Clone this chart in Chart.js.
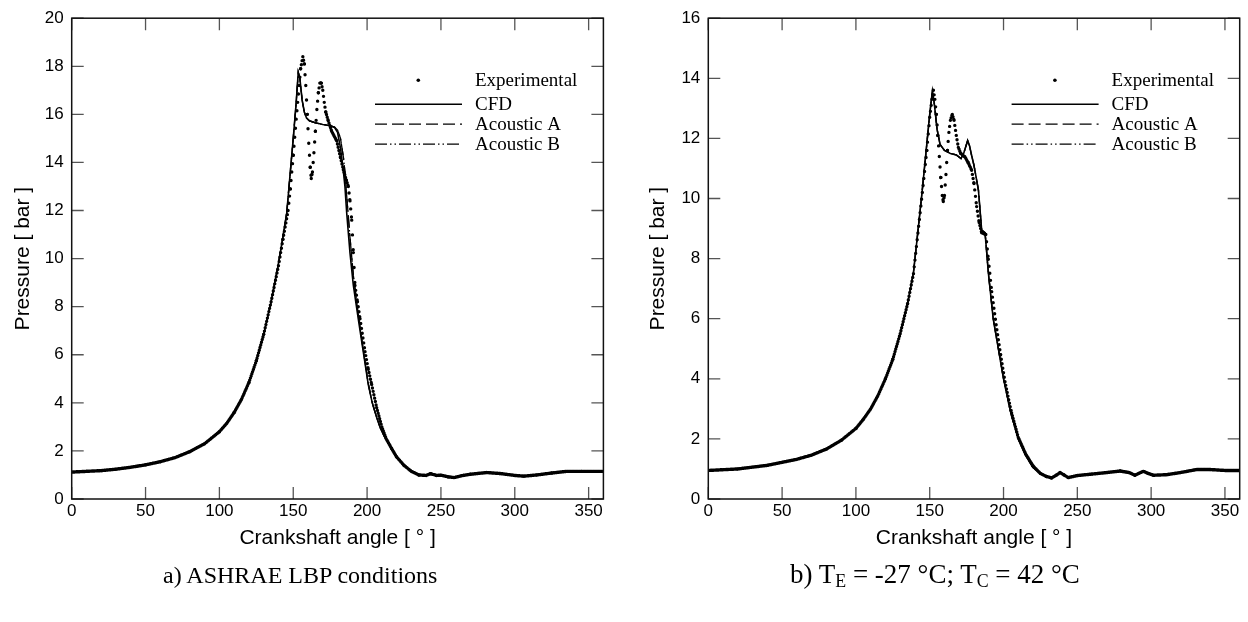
<!DOCTYPE html>
<html>
<head>
<meta charset="utf-8">
<script src="https://cdn.jsdelivr.net/npm/chart.js@4.4.1/dist/chart.umd.min.js"></script>
<style>
  html, body { margin: 0; padding: 0; background: #fff; width: 1248px; height: 622px; overflow: hidden; }
  canvas { position: absolute; top: 0; }
  #cvL { left: 0; }
  #cvR { left: 624px; }
  .cap { position: absolute; font-family: 'Liberation Serif', 'Times New Roman', serif; color: #000; white-space: nowrap; }
  #capL { left: 163px; top: 563px; font-size: 24px; line-height: 24px; }
  #capR { left: 790px; top: 561px; font-size: 27px; line-height: 27px; }
  .cap sub { font-size: 0.66em; vertical-align: -0.22em; line-height: 0; }
</style>
</head>
<body>
<canvas id="cvL" width="624" height="622"></canvas>
<canvas id="cvR" width="624" height="622"></canvas>
<div class="cap" id="capL">a) ASHRAE LBP conditions</div>
<div class="cap" id="capR">b) T<sub>E</sub> = -27 °C; T<sub>C</sub> = 42 °C</div>
<script>
// ---------- DATA ----------
const seriesNames = ['Experimental', 'CFD', 'Acoustic A', 'Acoustic B'];
const xTitle = 'Crankshaft angle [ \u00b0 ]';
const yTitle = 'Pressure [ bar ]';

// Chart a) ASHRAE LBP conditions
const cfdAngleL = [0,20,40,60,70,80,90,100,105,110,115,120,125,130,135,140,143,145.6,148,150,152,153.4,154.5,156,157.5,159,161,165,170,175,178,180,182,184,185,186.2,188.4,190.7,194,197.4,200.8,203.5,206.5,209,212,216.7,220,225,230,235,240,243,247,250,255,259,265,270,281,290,300,306,315,325,335,345,360];
const cfdL = [1.12,1.18,1.32,1.55,1.72,1.97,2.3,2.8,3.15,3.6,4.15,4.85,5.75,6.85,8.2,9.8,10.9,11.9,13.6,15.0,16.5,17.75,17.5,16.6,16.1,15.85,15.73,15.65,15.58,15.53,15.45,15.25,14.6,13.6,13.0,11.9,10.25,8.88,7.5,6.13,4.76,4.0,3.39,2.95,2.56,2.09,1.75,1.4,1.15,1.0,0.98,1.05,0.98,0.99,0.92,0.89,0.98,1.03,1.1,1.06,0.98,0.95,1.0,1.08,1.15,1.15,1.15];
const acousticL = [1.12,1.18,1.32,1.55,1.72,1.97,2.3,2.8,3.15,3.6,4.15,4.85,5.75,6.85,8.2,9.8,10.9,11.9,13.6,15.0,16.5,17.75,17.5,16.6,16.1,15.85,15.73,15.65,15.58,15.53,15.47,15.35,15.0,14.2,13.6,12.6,10.9,9.3,7.7,6.2,4.8,4.0,3.39,2.95,2.56,2.09,1.75,1.4,1.15,1.0,0.98,1.05,0.98,0.99,0.92,0.89,0.98,1.03,1.1,1.06,0.98,0.95,1.0,1.08,1.15,1.15,1.15];
const expAngleL = [0,10,20,30,40,50,60,70,80,90,100,105,110,115,120,125,130,135,140,143,146.5,148,150,152,154,155,156.5,157.5,158.5,159.5,160.5,161.5,162.2,163,164,165,166,167,168,169,170,171,172,173.7,176,179.4,182,183.9,186,187.3,188.4,189.6,190.7,191.8,193.5,195.2,198.6,200.8,203.1,206.5,210,213,216.7,220,225,230,235,240,243,247,250,255,259,265,270,281,290,300,306,315,325,335,345,360];
const expL = [1.12,1.15,1.18,1.24,1.32,1.42,1.55,1.72,1.97,2.3,2.8,3.15,3.6,4.15,4.85,5.75,6.85,8.2,9.7,10.8,12.0,12.9,14.3,15.8,17.2,17.9,18.4,18.1,17.2,16.0,14.8,13.8,13.33,13.6,14.4,15.3,16.2,16.9,17.3,17.3,17.0,16.5,16.1,15.73,15.3,14.9,14.2,13.7,13.25,13.0,12.4,11.6,10.25,8.88,8.2,7.5,6.13,5.4,4.76,3.8,3.0,2.5,2.09,1.75,1.4,1.15,1.0,0.98,1.05,0.98,0.99,0.92,0.89,0.98,1.03,1.1,1.06,0.98,0.95,1.0,1.08,1.15,1.15,1.15];

// Chart b) TE = -27 °C; TC = 42 °C
const cfdAngleR = [0,20,40,60,70,80,90,100,105,110,115,120,125,130,135,139,142,145,148,150,151.8,153,155,157,160,164,168,171.2,173,175.7,177,178.4,180,183,185.2,187.5,189.7,193,196.5,200,205,210,215,220,225,229,232.6,236,238.3,241,243.9,250,260,270,279,285,289,294.7,298,301.5,310.6,320,330.9,340,350,360];
const cfdR = [0.95,1.0,1.12,1.32,1.46,1.66,1.95,2.35,2.65,3.0,3.45,4.0,4.65,5.5,6.5,7.54,8.9,10.3,11.8,12.8,13.57,13.2,12.3,11.8,11.6,11.5,11.45,11.33,11.5,11.93,11.75,11.43,11.1,10.28,8.95,8.86,7.54,6.0,5.0,4.0,2.85,2.0,1.45,1.05,0.85,0.75,0.70,0.8,0.88,0.8,0.71,0.78,0.83,0.88,0.93,0.88,0.79,0.92,0.85,0.79,0.81,0.88,0.98,0.98,0.95,0.95];
const acousticR = [0.95,1.0,1.12,1.32,1.46,1.66,1.95,2.35,2.65,3.0,3.45,4.0,4.65,5.5,6.5,7.54,8.9,10.3,11.8,12.8,13.57,13.2,12.3,11.8,11.6,11.5,11.45,11.33,11.5,11.93,11.75,11.43,11.1,10.28,8.95,8.86,7.54,6.0,5.0,4.0,2.85,2.0,1.45,1.05,0.85,0.75,0.70,0.8,0.88,0.8,0.71,0.78,0.83,0.88,0.93,0.88,0.79,0.92,0.85,0.79,0.81,0.88,0.98,0.98,0.95,0.95];
const expAngleR = [0,20,40,60,70,80,90,100,105,110,115,120,125,130,135,139,142,145,148,150,151.5,152.5,153.5,154.5,155.5,156.5,157.5,158.5,159.2,160,161,162,163,164,165.3,166.5,168,169.4,171,173.9,176,178.4,180,181.8,183.5,185.2,188,189.7,192,195,198,201,205,210,215,220,225,229,232.6,236,238.3,241,243.9,250,260,270,279,285,289,294.7,298,301.5,310.6,320,330.9,340,350,360];
const expR = [0.95,1.0,1.12,1.32,1.46,1.66,1.95,2.35,2.65,3.0,3.45,4.0,4.65,5.5,6.5,7.5,8.85,10.2,11.6,12.7,13.3,13.6,13.3,12.8,12.1,11.4,10.7,10.1,9.9,10.1,10.8,11.6,12.2,12.6,12.8,12.6,12.1,11.7,11.5,11.38,11.2,10.94,10.5,9.73,9.2,8.86,8.8,7.98,6.9,5.8,4.8,3.9,2.95,2.05,1.5,1.1,0.85,0.75,0.70,0.8,0.88,0.8,0.71,0.78,0.83,0.88,0.93,0.88,0.79,0.92,0.85,0.79,0.81,0.88,0.98,0.98,0.95,0.95];

// ---------- helpers ----------
const pts = (xs, ys) => xs.map((x, i) => ({ x: x, y: ys[i] }));
const SANS = "'Liberation Sans', Arial, Helvetica, sans-serif";
const SERIF = "'Liberation Serif', 'Times New Roman', serif";
const SAMPLE_STEP = 0.5; // angular spacing of the measured dots (styling of the dotted line)

// dotted line whose dot spacing follows a constant crank-angle step
function dotDash(ctx) {
  const ds = ctx.chart.data.datasets[ctx.datasetIndex].data;
  const a0 = ds[ctx.p0DataIndex].x, a1 = ds[ctx.p1DataIndex].x;
  const len = Math.hypot(ctx.p1.x - ctx.p0.x, ctx.p1.y - ctx.p0.y);
  const n = Math.max((a1 - a0) / SAMPLE_STEP, 1);
  return [0, Math.max(len / n, 0.4)];
}

const frameTicks = {
  id: 'frameTicks',
  afterDatasetsDraw(chart) {
    const { ctx, chartArea: a, scales: { x, y } } = chart;
    ctx.save();
    ctx.strokeStyle = '#555';
    ctx.lineWidth = 1.3;
    ctx.beginPath();
    x.ticks.forEach(t => {
      const px = x.getPixelForValue(t.value);
      ctx.moveTo(px, a.bottom); ctx.lineTo(px, a.bottom - 12);
      ctx.moveTo(px, a.top); ctx.lineTo(px, a.top + 12);
    });
    y.ticks.forEach(t => {
      const py = y.getPixelForValue(t.value);
      ctx.moveTo(a.left, py); ctx.lineTo(a.left + 12, py);
      ctx.moveTo(a.right, py); ctx.lineTo(a.right - 12, py);
    });
    ctx.stroke();
    ctx.strokeStyle = '#111';
    ctx.lineWidth = 1.5;
    ctx.strokeRect(a.left, a.top, a.right - a.left, a.bottom - a.top);
    ctx.restore();
  }
};

const legendBox = {
  id: 'legendBox',
  afterDraw(chart) {
    const { ctx, chartArea: a } = chart;
    const rows = [62, 86, 106, 126];
    const x0 = a.left + 303.3, x1 = a.left + 390.3, tx = a.left + 403.3;
    ctx.save();
    ctx.font = '19px ' + SERIF;
    ctx.fillStyle = '#000';
    ctx.textBaseline = 'middle';
    chart.data.datasets.forEach((ds, i) => {
      const yy = a.top + rows[i];
      if (ds.isDots) {
        ctx.beginPath();
        ctx.arc(a.left + 346.6, yy, 1.8, 0, Math.PI * 2);
        ctx.fill();
      } else {
        ctx.beginPath();
        ctx.strokeStyle = '#000';
        ctx.lineWidth = ds.borderWidth;
        ctx.setLineDash(ds.borderDash || []);
        ctx.moveTo(x0, yy); ctx.lineTo(x1, yy);
        ctx.stroke();
        ctx.setLineDash([]);
      }
      ctx.fillText(ds.label, tx, yy + 1);
    });
    ctx.restore();
  }
};

function makeChart(id, d) {
  const tickFont = { family: SANS, size: 17 };
  const titleFont = { family: SANS, size: 21 };
  return new Chart(document.getElementById(id), {
    type: 'line',
    data: {
      datasets: [
        { label: seriesNames[0], data: pts(d.expAngle, d.exp), isDots: true,
          borderColor: '#000', borderWidth: 3.4, borderCapStyle: 'round',
          segment: { borderDash: dotDash },
          pointRadius: 0, fill: false, order: 0 },
        { label: seriesNames[1], data: pts(d.cfdAngle, d.cfd),
          borderColor: '#000', borderWidth: 1.6, pointRadius: 0, fill: false, order: 3 },
        { label: seriesNames[2], data: pts(d.cfdAngle, d.acoustic),
          borderColor: '#000', borderWidth: 1.3, borderDash: [12, 5], pointRadius: 0, fill: false, order: 2 },
        { label: seriesNames[3], data: pts(d.cfdAngle, d.acoustic),
          borderColor: '#000', borderWidth: 1.3, borderDash: [12, 3, 1.5, 3, 1.5, 3], pointRadius: 0, fill: false, order: 1 }
      ]
    },
    options: {
      responsive: false,
      animation: false,
      devicePixelRatio: 1,
      layout: { autoPadding: false, padding: { left: 0, right: d.padRight, top: 10, bottom: 0 } },
      plugins: { legend: { display: false }, tooltip: { enabled: false } },
      elements: { line: { tension: 0 } },
      scales: {
        x: {
          type: 'linear', min: 0, max: 360,
          ticks: { stepSize: 50, includeBounds: false, padding: 2, color: '#000', font: tickFont, maxRotation: 0 },
          grid: { display: false, drawTicks: false },
          border: { display: false },
          title: { display: true, text: xTitle, color: '#000', font: titleFont, padding: { top: 0, bottom: 71 } },
          afterFit(s) { s.height = 123; }
        },
        y: {
          type: 'linear', min: 0, max: d.yMax,
          ticks: { stepSize: 2, includeBounds: false, padding: 8, color: '#000', font: tickFont },
          grid: { display: false, drawTicks: false },
          border: { display: false },
          title: { display: true, text: yTitle, color: '#000', font: titleFont, padding: { top: d.yTitlePad, bottom: 0 } },
          afterFit(s) { s.width = d.yWidth; }
        }
      }
    },
    plugins: [frameTicks, legendBox]
  });
}

makeChart('cvL', { expAngle: expAngleL, exp: expL, cfdAngle: cfdAngleL, cfd: cfdL, acoustic: acousticL,
  yMax: 20, yWidth: 71.7, padRight: 20.6, yTitlePad: 11 });
makeChart('cvR', { expAngle: expAngleR, exp: expR, cfdAngle: cfdAngleR, cfd: cfdR, acoustic: acousticR,
  yMax: 16, yWidth: 84.3, padRight: 8.3, yTitlePad: 22 });
</script>
</body>
</html>
